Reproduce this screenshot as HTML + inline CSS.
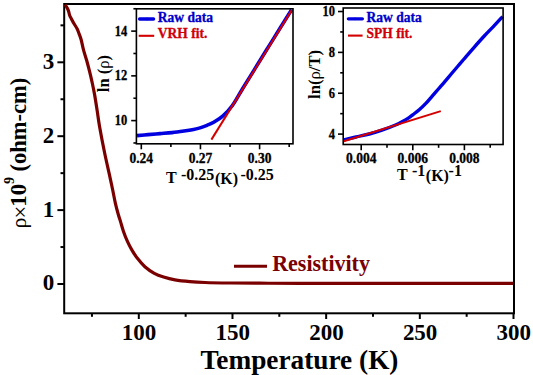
<!DOCTYPE html>
<html><head><meta charset="utf-8"><style>
html,body{margin:0;padding:0;background:#fff;width:533px;height:375px;overflow:hidden;}
svg{display:block;font-family:"Liberation Serif",serif;}
</style></head><body>
<svg width="533" height="375" viewBox="0 0 533 375" font-family="Liberation Serif">
<rect width="533" height="375" fill="#fff"/>
<rect x="64.2" y="4.0" width="449.8" height="309.3" fill="none" stroke="#000" stroke-width="2"/>
<path d="M65.00,4.60 C65.17,4.83 65.57,5.30 66.00,6.00 C66.43,6.70 67.13,7.80 67.60,8.80 C68.07,9.80 68.45,10.88 68.80,12.00 C69.15,13.12 69.23,14.30 69.70,15.50 C70.17,16.70 70.90,17.87 71.60,19.20 C72.30,20.53 72.98,21.90 73.90,23.50 C74.82,25.10 76.22,27.03 77.10,28.80 C77.98,30.57 78.53,32.32 79.20,34.10 C79.87,35.88 80.38,36.87 81.10,39.50 C81.82,42.13 82.57,46.40 83.50,49.90 C84.43,53.40 85.70,56.95 86.70,60.50 C87.70,64.05 88.62,67.65 89.50,71.20 C90.38,74.75 91.15,77.90 92.00,81.80 C92.85,85.70 93.72,89.63 94.60,94.60 C95.48,99.57 96.47,106.25 97.30,111.60 C98.13,116.95 98.37,119.75 99.60,126.70 C100.83,133.65 102.97,144.87 104.70,153.30 C106.43,161.73 108.67,171.18 110.00,177.30 C111.33,183.42 111.80,185.67 112.70,190.00 C113.60,194.33 114.47,199.22 115.40,203.30 C116.33,207.38 117.43,211.40 118.30,214.50 C119.17,217.60 119.75,219.12 120.60,221.90 C121.45,224.68 122.32,228.08 123.40,231.20 C124.48,234.32 125.70,237.48 127.10,240.60 C128.50,243.72 130.08,246.95 131.80,249.90 C133.52,252.85 135.22,255.50 137.40,258.30 C139.58,261.10 142.08,264.20 144.90,266.70 C147.72,269.20 151.18,271.58 154.30,273.30 C157.42,275.02 160.15,275.92 163.60,277.00 C167.05,278.08 170.60,279.03 175.00,279.80 C179.40,280.57 185.00,281.15 190.00,281.60 C195.00,282.05 198.33,282.27 205.00,282.50 C211.67,282.73 220.83,282.88 230.00,283.00 C239.17,283.12 248.33,283.14 260.00,283.20 C271.67,283.26 276.67,283.33 300.00,283.35 C323.33,283.38 364.50,283.36 400.00,283.35 C435.50,283.34 494.17,283.31 513.00,283.30" fill="none" stroke="#7a0000" stroke-width="3.2" stroke-linejoin="round" stroke-linecap="butt"/>
<line x1="57.40" y1="284.00" x2="64.20" y2="284.00" stroke="#000" stroke-width="2"/>
<text transform="translate(54.30,290.40) scale(1,1.030)" font-size="23" font-weight="bold" text-anchor="end">0</text>
<line x1="57.40" y1="210.10" x2="64.20" y2="210.10" stroke="#000" stroke-width="2"/>
<text transform="translate(54.30,216.50) scale(1,1.030)" font-size="23" font-weight="bold" text-anchor="end">1</text>
<line x1="57.40" y1="136.20" x2="64.20" y2="136.20" stroke="#000" stroke-width="2"/>
<text transform="translate(54.30,142.60) scale(1,1.030)" font-size="23" font-weight="bold" text-anchor="end">2</text>
<line x1="57.40" y1="62.30" x2="64.20" y2="62.30" stroke="#000" stroke-width="2"/>
<text transform="translate(54.30,68.70) scale(1,1.030)" font-size="23" font-weight="bold" text-anchor="end">3</text>
<line x1="60.50" y1="247.05" x2="64.20" y2="247.05" stroke="#000" stroke-width="2"/>
<line x1="60.50" y1="173.15" x2="64.20" y2="173.15" stroke="#000" stroke-width="2"/>
<line x1="60.50" y1="99.25" x2="64.20" y2="99.25" stroke="#000" stroke-width="2"/>
<line x1="60.50" y1="25.35" x2="64.20" y2="25.35" stroke="#000" stroke-width="2"/>
<line x1="138.80" y1="313.30" x2="138.80" y2="319.00" stroke="#000" stroke-width="2"/>
<text transform="translate(139.10,340.40) scale(1,1.030)" font-size="23" font-weight="bold" text-anchor="middle">100</text>
<line x1="232.48" y1="313.30" x2="232.48" y2="319.00" stroke="#000" stroke-width="2"/>
<text transform="translate(232.78,340.40) scale(1,1.030)" font-size="23" font-weight="bold" text-anchor="middle">150</text>
<line x1="326.15" y1="313.30" x2="326.15" y2="319.00" stroke="#000" stroke-width="2"/>
<text transform="translate(326.45,340.40) scale(1,1.030)" font-size="23" font-weight="bold" text-anchor="middle">200</text>
<line x1="419.82" y1="313.30" x2="419.82" y2="319.00" stroke="#000" stroke-width="2"/>
<text transform="translate(420.12,340.40) scale(1,1.030)" font-size="23" font-weight="bold" text-anchor="middle">250</text>
<line x1="513.50" y1="313.30" x2="513.50" y2="319.00" stroke="#000" stroke-width="2"/>
<text transform="translate(513.80,340.40) scale(1,1.030)" font-size="23" font-weight="bold" text-anchor="middle">300</text>
<line x1="91.96" y1="313.30" x2="91.96" y2="316.80" stroke="#000" stroke-width="2"/>
<line x1="185.64" y1="313.30" x2="185.64" y2="316.80" stroke="#000" stroke-width="2"/>
<line x1="279.31" y1="313.30" x2="279.31" y2="316.80" stroke="#000" stroke-width="2"/>
<line x1="372.99" y1="313.30" x2="372.99" y2="316.80" stroke="#000" stroke-width="2"/>
<line x1="466.66" y1="313.30" x2="466.66" y2="316.80" stroke="#000" stroke-width="2"/>
<text x="200.60" y="368.60" font-size="27.3" font-weight="bold">Temperature (K)</text>
<g transform="translate(25.8,228) rotate(-90)"><text x="-0.5" y="0" font-size="22">&#961;</text><text x="9.6" y="2.4" font-size="22.5">&#215;</text><text x="21.2" y="0" font-weight="bold" font-size="23">10</text><text x="43.9" y="-12.2" font-weight="bold" font-size="14">9</text><text x="56.5" y="0" font-weight="bold" font-size="22.5">(ohm-cm)</text></g>
<line x1="234.00" y1="266.20" x2="267.00" y2="266.20" stroke="#7a0000" stroke-width="3"/>
<text transform="translate(272.20,270.60) scale(1,1.030)" font-size="22" font-weight="bold" fill="#7a0000">Resistivity</text>
<rect x="136.4" y="8.8" width="156.6" height="135.0" fill="#fff"/>
<path d="M137.00,135.60 C138.83,135.43 144.17,134.93 148.00,134.60 C151.83,134.27 156.00,133.93 160.00,133.60 C164.00,133.27 168.00,133.03 172.00,132.60 C176.00,132.17 180.40,131.53 184.00,131.00 C187.60,130.47 190.93,129.92 193.60,129.40 C196.27,128.88 197.77,128.58 200.00,127.90 C202.23,127.22 204.72,126.23 207.00,125.30 C209.28,124.37 211.03,123.88 213.70,122.30 C216.37,120.72 219.88,118.60 223.00,115.80 C226.12,113.00 229.28,109.77 232.40,105.50 C235.52,101.23 238.60,95.27 241.70,90.20 C244.80,85.13 247.95,80.05 251.00,75.10 C254.05,70.15 256.83,65.62 260.00,60.50 C263.17,55.38 266.67,49.77 270.00,44.40 C273.33,39.03 276.40,34.07 280.00,28.30 C283.60,22.53 289.67,12.88 291.60,9.80" fill="none" stroke="#0000e0" stroke-width="3.6" stroke-linejoin="round"/>
<line x1="211.40" y1="139.60" x2="291.60" y2="10.40" stroke="#d40000" stroke-width="2"/>
<rect x="136.4" y="8.8" width="156.6" height="135.0" fill="none" stroke="#000" stroke-width="1.6"/>
<line x1="131.20" y1="120.60" x2="136.40" y2="120.60" stroke="#000" stroke-width="1.6"/>
<text transform="translate(127.20,125.20) scale(1,1.120)" font-size="12.5" font-weight="bold" text-anchor="end" stroke="#000" stroke-width="0.3">10</text>
<line x1="131.20" y1="75.86" x2="136.40" y2="75.86" stroke="#000" stroke-width="1.6"/>
<text transform="translate(127.20,80.46) scale(1,1.120)" font-size="12.5" font-weight="bold" text-anchor="end" stroke="#000" stroke-width="0.3">12</text>
<line x1="131.20" y1="31.12" x2="136.40" y2="31.12" stroke="#000" stroke-width="1.6"/>
<text transform="translate(127.20,35.72) scale(1,1.120)" font-size="12.5" font-weight="bold" text-anchor="end" stroke="#000" stroke-width="0.3">14</text>
<line x1="133.40" y1="142.97" x2="136.40" y2="142.97" stroke="#000" stroke-width="1.6"/>
<line x1="133.40" y1="98.23" x2="136.40" y2="98.23" stroke="#000" stroke-width="1.6"/>
<line x1="133.40" y1="53.49" x2="136.40" y2="53.49" stroke="#000" stroke-width="1.6"/>
<line x1="133.40" y1="8.75" x2="136.40" y2="8.75" stroke="#000" stroke-width="1.6"/>
<line x1="141.30" y1="143.80" x2="141.30" y2="149.30" stroke="#000" stroke-width="1.6"/>
<text transform="translate(141.30,163.10) scale(1,1.120)" font-size="13.5" font-weight="bold" text-anchor="middle" stroke="#000" stroke-width="0.3">0.24</text>
<line x1="200.45" y1="143.80" x2="200.45" y2="149.30" stroke="#000" stroke-width="1.6"/>
<text transform="translate(200.45,163.10) scale(1,1.120)" font-size="13.5" font-weight="bold" text-anchor="middle" stroke="#000" stroke-width="0.3">0.27</text>
<line x1="259.60" y1="143.80" x2="259.60" y2="149.30" stroke="#000" stroke-width="1.6"/>
<text transform="translate(259.60,163.10) scale(1,1.120)" font-size="13.5" font-weight="bold" text-anchor="middle" stroke="#000" stroke-width="0.3">0.30</text>
<line x1="170.88" y1="143.80" x2="170.88" y2="147.00" stroke="#000" stroke-width="1.6"/>
<line x1="230.03" y1="143.80" x2="230.03" y2="147.00" stroke="#000" stroke-width="1.6"/>
<line x1="289.18" y1="143.80" x2="289.18" y2="147.00" stroke="#000" stroke-width="1.6"/>
<text font-weight="bold" font-size="16"><tspan x="181" y="179.8">-0.25</tspan><tspan x="215" y="184.3">(K)</tspan><tspan x="240.5" y="179.8">-0.25</tspan></text>
<text transform="translate(166.00,182.50) scale(1,1.100)" font-size="16" font-weight="bold">T</text>
<text transform="translate(109.0,92.2) rotate(-90)" font-weight="bold" font-size="16.6">ln (<tspan font-weight="normal">&#961;</tspan>)</text>
<line x1="139.60" y1="19.00" x2="146.40" y2="19.00" stroke="#0000e0" stroke-width="3.3" stroke-linecap="round"/>
<line x1="147.40" y1="19.00" x2="153.60" y2="19.00" stroke="#0000e0" stroke-width="3.3" stroke-linecap="round"/>
<text transform="translate(157.80,21.60) scale(1,1.070)" font-size="13.5" font-weight="bold" fill="#0000c8" stroke="#0000c8" stroke-width="0.3">Raw data</text>
<line x1="138.70" y1="35.80" x2="154.20" y2="35.80" stroke="#d40000" stroke-width="2.1"/>
<text transform="translate(157.80,38.00) scale(1,1.070)" font-size="13.5" font-weight="bold" fill="#d0000a" stroke="#d0000a" stroke-width="0.3">VRH fit.</text>
<rect x="343.2" y="8.0" width="159.9" height="136.5" fill="#fff"/>
<path d="M343.80,139.90 C345.83,139.42 351.75,137.98 356.00,137.00 C360.25,136.02 364.97,135.13 369.30,134.00 C373.63,132.87 377.63,131.70 382.00,130.20 C386.37,128.70 392.17,126.40 395.50,125.00 C398.83,123.60 399.80,123.00 402.00,121.80 C404.20,120.60 406.87,119.00 408.70,117.80 C410.53,116.60 411.25,115.93 413.00,114.60 C414.75,113.27 417.10,111.62 419.20,109.80 C421.30,107.98 423.47,105.93 425.60,103.70 C427.73,101.47 429.87,98.85 432.00,96.40 C434.13,93.95 436.27,91.47 438.40,89.00 C440.53,86.53 442.67,84.10 444.80,81.60 C446.93,79.10 449.07,76.52 451.20,74.00 C453.33,71.48 455.47,69.00 457.60,66.50 C459.73,64.00 461.47,61.95 464.00,59.00 C466.53,56.05 469.50,52.55 472.80,48.80 C476.10,45.05 480.15,40.43 483.80,36.50 C487.45,32.57 491.57,28.52 494.70,25.20 C497.83,21.88 501.28,18.03 502.60,16.60" fill="none" stroke="#0000e0" stroke-width="3.4" stroke-linejoin="round"/>
<line x1="343.80" y1="141.20" x2="440.80" y2="111.10" stroke="#d40000" stroke-width="2"/>
<rect x="343.2" y="8.0" width="159.9" height="136.5" fill="none" stroke="#000" stroke-width="1.6"/>
<line x1="338.00" y1="134.10" x2="343.20" y2="134.10" stroke="#000" stroke-width="1.6"/>
<text transform="translate(335.00,138.70) scale(1,1.120)" font-size="12.5" font-weight="bold" text-anchor="end" stroke="#000" stroke-width="0.3">4</text>
<line x1="338.00" y1="93.24" x2="343.20" y2="93.24" stroke="#000" stroke-width="1.6"/>
<text transform="translate(335.00,97.84) scale(1,1.120)" font-size="12.5" font-weight="bold" text-anchor="end" stroke="#000" stroke-width="0.3">6</text>
<line x1="338.00" y1="52.38" x2="343.20" y2="52.38" stroke="#000" stroke-width="1.6"/>
<text transform="translate(335.00,56.98) scale(1,1.120)" font-size="12.5" font-weight="bold" text-anchor="end" stroke="#000" stroke-width="0.3">8</text>
<line x1="338.00" y1="11.52" x2="343.20" y2="11.52" stroke="#000" stroke-width="1.6"/>
<text transform="translate(335.00,16.12) scale(1,1.120)" font-size="12.5" font-weight="bold" text-anchor="end" stroke="#000" stroke-width="0.3">10</text>
<line x1="340.20" y1="113.67" x2="343.20" y2="113.67" stroke="#000" stroke-width="1.6"/>
<line x1="340.20" y1="72.81" x2="343.20" y2="72.81" stroke="#000" stroke-width="1.6"/>
<line x1="340.20" y1="31.95" x2="343.20" y2="31.95" stroke="#000" stroke-width="1.6"/>
<line x1="361.20" y1="144.50" x2="361.20" y2="150.20" stroke="#000" stroke-width="1.6"/>
<text transform="translate(361.20,163.00) scale(1,1.120)" font-size="13.5" font-weight="bold" text-anchor="middle" stroke="#000" stroke-width="0.3">0.004</text>
<line x1="412.80" y1="144.50" x2="412.80" y2="150.20" stroke="#000" stroke-width="1.6"/>
<text transform="translate(412.80,163.00) scale(1,1.120)" font-size="13.5" font-weight="bold" text-anchor="middle" stroke="#000" stroke-width="0.3">0.006</text>
<line x1="464.40" y1="144.50" x2="464.40" y2="150.20" stroke="#000" stroke-width="1.6"/>
<text transform="translate(464.40,163.00) scale(1,1.120)" font-size="13.5" font-weight="bold" text-anchor="middle" stroke="#000" stroke-width="0.3">0.008</text>
<line x1="387.00" y1="144.50" x2="387.00" y2="147.80" stroke="#000" stroke-width="1.6"/>
<line x1="438.60" y1="144.50" x2="438.60" y2="147.80" stroke="#000" stroke-width="1.6"/>
<line x1="490.20" y1="144.50" x2="490.20" y2="147.80" stroke="#000" stroke-width="1.6"/>
<text font-weight="bold" font-size="16"><tspan x="397" y="179.8">T</tspan><tspan x="412" y="175.5">-1</tspan><tspan x="425.8" y="181">(K)</tspan><tspan x="448.6" y="175.5">-1</tspan></text>
<text transform="translate(320.1,99.0) rotate(-90)" font-weight="bold" font-size="16.7">ln(<tspan font-weight="normal">&#961;</tspan>/T)</text>
<line x1="348.40" y1="18.80" x2="354.80" y2="18.80" stroke="#0000e0" stroke-width="3.3" stroke-linecap="round"/>
<line x1="355.80" y1="18.80" x2="362.40" y2="18.80" stroke="#0000e0" stroke-width="3.3" stroke-linecap="round"/>
<text transform="translate(366.60,21.60) scale(1,1.070)" font-size="13.5" font-weight="bold" fill="#0000c8" stroke="#0000c8" stroke-width="0.3">Raw data</text>
<line x1="348.00" y1="35.60" x2="362.60" y2="35.60" stroke="#d40000" stroke-width="2.1"/>
<text transform="translate(366.60,38.40) scale(1,1.070)" font-size="13.5" font-weight="bold" fill="#d0000a" stroke="#d0000a" stroke-width="0.3">SPH fit.</text>
</svg>
</body></html>
